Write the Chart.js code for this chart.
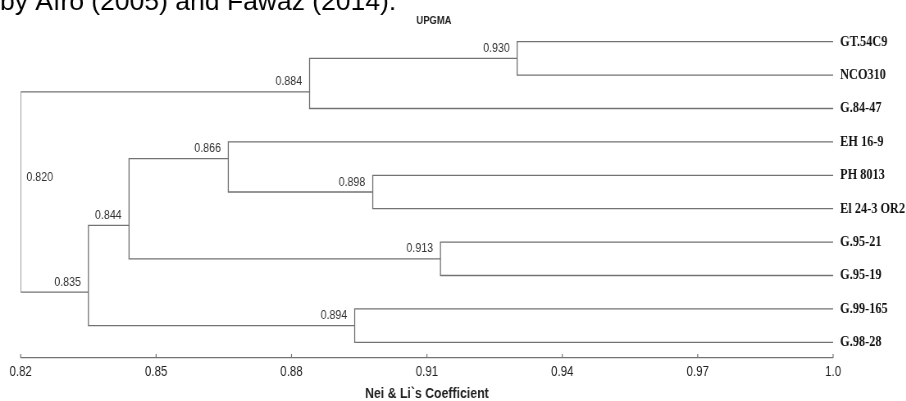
<!DOCTYPE html>
<html>
<head>
<meta charset="utf-8">
<script src="https://cdn.jsdelivr.net/npm/chart.js@4/dist/chart.umd.min.js"></script>
<style>
  html, body { margin: 0; padding: 0; background: #fff; }
  #wrap { width: 906px; height: 401px; overflow: hidden; }
  /* the original figure is squeezed sideways (narrow fonts), so the chart is drawn wider and scaled back */
  #inner { width: 1105px; height: 401px; transform: scaleX(0.82); transform-origin: 0 0; }
</style>
</head>
<body>
<div id="wrap"><div id="inner"><canvas id="dendro" width="1105" height="401"></canvas></div></div>
<script>
// --- data ---
const leafLabels = ['GT.54C9', 'NCO310', 'G.84-47', 'EH 16-9', 'PH 8013',
                    'El 24-3 OR2', 'G.95-21', 'G.95-19', 'G.99-165', 'G.98-28'];
// merge heights (Nei & Li's coefficient), in merge order
const nodeHeights = [0.930, 0.884, 0.898, 0.866, 0.913, 0.844, 0.894, 0.835, 0.820];
// the two children of each merge: L = leaf index, N = merge index
const nodeChildren = [['L0', 'L1'], ['N0', 'L2'], ['L4', 'L5'], ['L3', 'N2'], ['L6', 'L7'],
                      ['N3', 'N4'], ['L8', 'L9'], ['N5', 'N6'], ['N1', 'N7']];
// row where the stem of each merge sits (leaf rows are 0..9)
const nodeRows = [0.5, 1.5, 4.5, 3.5, 6.5, 5.5, 8.5, 7.5, 4.5];
const xTickValues = [0.82, 0.85, 0.88, 0.91, 0.94, 0.97, 1.0];
const xTickLabels = ['0.82', '0.85', '0.88', '0.91', '0.94', '0.97', '1.0'];
const leafX = 1.0;

const SX = 0.82; // same as the css scaleX
const SANS = "'Liberation Sans', Arial, sans-serif";
const LINE = '#737373';

function posOf(ref) {
    const i = parseInt(ref.slice(1));
    if (ref[0] === 'L') return { x: leafX, y: i };
    return { x: nodeHeights[i], y: nodeRows[i] };
}

// one elbow path per merge
const datasets = nodeChildren.map((pair, i) => {
    const a = posOf(pair[0]);
    const b = posOf(pair[1]);
    const h = nodeHeights[i];
    return {
        data: [{ x: a.x, y: a.y }, { x: h, y: a.y }, { x: h, y: b.y }, { x: b.x, y: b.y }],
        borderColor: LINE,
        borderWidth: 1.3,
        pointRadius: 0,
        tension: 0,
        fill: false
    };
});

// merge values, tick marks and the text above the chart
const extras = {
    id: 'extras',
    afterDatasetsDraw(chart) {
        const { ctx, scales: { x, y } } = chart;
        ctx.save();

        // upward tick marks on the axis
        ctx.strokeStyle = LINE;
        ctx.lineWidth = 1.2;
        xTickValues.forEach(v => {
            const px = x.getPixelForValue(v);
            ctx.beginPath();
            ctx.moveTo(px, x.top);
            ctx.lineTo(px, x.top - 4);
            ctx.stroke();
        });

        // merge values
        ctx.font = '13px ' + SANS;
        ctx.fillStyle = '#333';
        ctx.textBaseline = 'middle';
        nodeHeights.forEach((h, i) => {
            const px = x.getPixelForValue(h);
            const py = y.getPixelForValue(nodeRows[i]);
            if (i === nodeHeights.length - 1) {
                ctx.textAlign = 'left';
                ctx.fillText(h.toFixed(3), px + 7, py - 15);
            } else {
                ctx.textAlign = 'right';
                ctx.fillText(h.toFixed(3), px - 9, py - 10);
            }
        });

        // method caption
        ctx.font = 'bold 11.5px ' + SANS;
        ctx.fillStyle = '#222';
        ctx.textAlign = 'center';
        ctx.fillText('UPGMA', 434 / SX, 21);

        // tail of the paper's sentence, cut by the top edge (not squeezed)
        ctx.scale(1 / SX, 1);
        ctx.font = '26.5px ' + SANS;
        ctx.fillStyle = '#000';
        ctx.textAlign = 'left';
        ctx.textBaseline = 'alphabetic';
        ctx.fillText('by Afro (2005) and Fawaz (2014).', 0, 9.5);
        ctx.restore();
    }
};

new Chart(document.getElementById('dendro'), {
    type: 'line',
    data: { datasets: datasets },
    options: {
        responsive: false,
        animation: false,
        devicePixelRatio: 1,
        layout: { padding: { left: 20.7 / SX, top: 20, right: 0, bottom: 0 } },
        plugins: { legend: { display: false }, tooltip: { enabled: false } },
        scales: {
            x: {
                type: 'linear',
                position: 'bottom',
                min: 0.82,
                max: 1.0,
                afterBuildTicks: s => { s.ticks = xTickValues.map(v => ({ value: v })); },
                afterFit: s => { s.height = 43; },
                grid: { display: false, drawTicks: false },
                border: { display: true, color: LINE, width: 1.2 },
                ticks: {
                    padding: 6,
                    color: '#222',
                    font: { family: SANS, size: 14 },
                    maxRotation: 0,
                    callback: (v, i) => xTickLabels[i]
                },
                title: {
                    display: true,
                    text: 'Nei & Li`s Coefficient',
                    color: '#222',
                    font: { family: SANS, size: 15, weight: 'bold', lineHeight: 1 },
                    padding: { top: 0, bottom: 0 }
                }
            },
            y: {
                type: 'linear',
                position: 'right',
                reverse: true,
                min: -0.65,
                max: 9.47,
                afterBuildTicks: s => { s.ticks = leafLabels.map((_, i) => ({ value: i })); },
                afterFit: s => { s.width = (906 - 833) / SX; },
                grid: { display: false, drawTicks: false },
                border: { display: false },
                ticks: {
                    padding: 7 / SX,
                    color: '#111',
                    font: { family: "'Liberation Serif', 'Times New Roman', serif", size: 15, weight: 'bold' },
                    callback: v => leafLabels[v]
                }
            }
        }
    },
    plugins: [extras]
});
</script>
</body>
</html>
